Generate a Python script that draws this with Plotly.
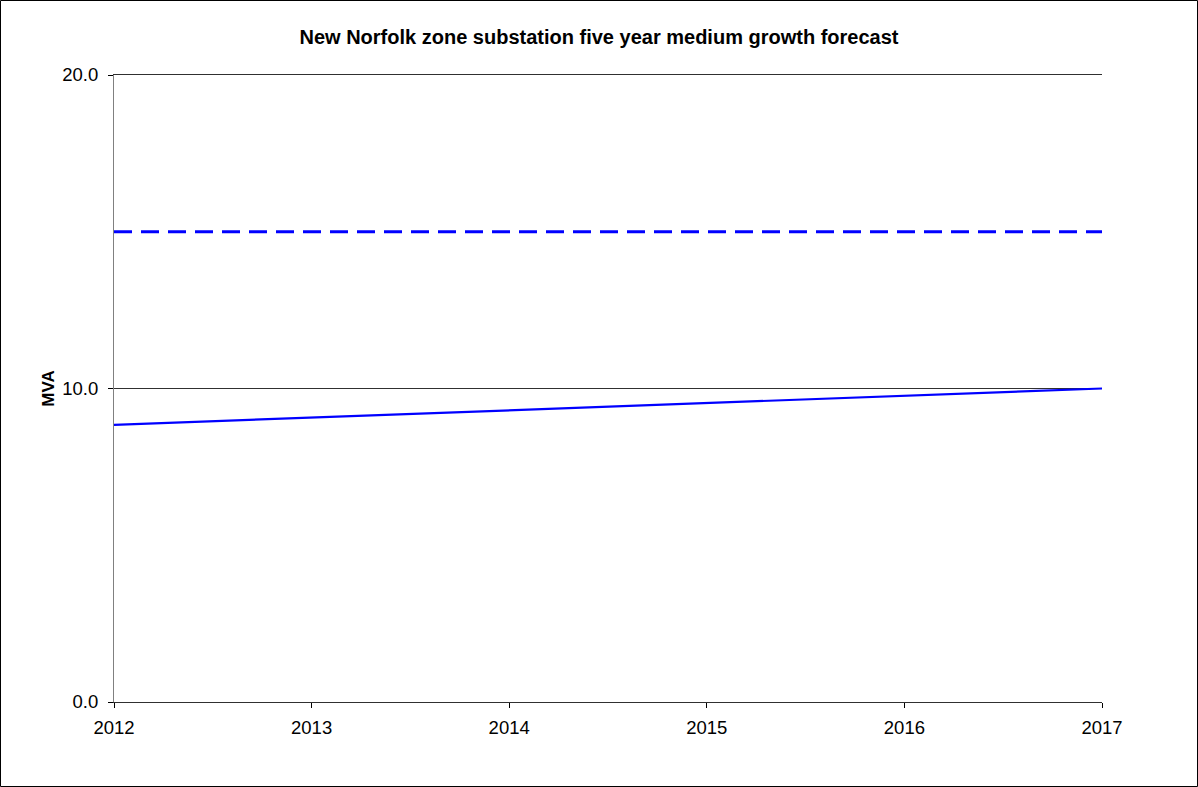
import plotly.graph_objects as go

# Forecast years and loads (MVA)
years = [2012, 2013, 2014, 2015, 2016, 2017]
forecast_mva = [8.84, 9.07, 9.30, 9.52, 9.77, 10.0]
firm_capacity_mva = [15.0, 15.0, 15.0, 15.0, 15.0, 15.0]

W, H = 1198, 787
L, R, T, B = 114, 96, 75, 85
pw, ph = W - L - R, H - T - B

fig = go.Figure()
fig.add_trace(go.Scatter(
    x=years, y=firm_capacity_mva, mode="lines",
    line=dict(color="#0000FF", width=3, dash="18px,9px"),
    showlegend=False, hoverinfo="skip"))
fig.add_trace(go.Scatter(
    x=years, y=forecast_mva, mode="lines",
    line=dict(color="#0000FF", width=2.2),
    showlegend=False))

# Outer frame around the whole chart
fig.add_shape(type="rect", xref="paper", yref="paper",
              x0=(0.5 - L) / pw, x1=(W - 0.5 - L) / pw,
              y0=-(B - 0.5) / ph, y1=(ph + T - 0.5) / ph,
              line=dict(color="#000000", width=1), layer="below")

fig.update_layout(
    width=W, height=H,
    margin=dict(l=L, r=R, t=T, b=B, pad=0),
    paper_bgcolor="white", plot_bgcolor="white",
    font=dict(family="Liberation Sans, Arial, sans-serif", size=18, color="#000000"),
    title=dict(text="<b>New Norfolk zone substation five year medium growth forecast</b>",
               x=0.5, xanchor="center", y=1 - 37 / H, yanchor="middle",
               font=dict(size=20)),
    xaxis=dict(range=[2012, 2017], tickvals=years, ticktext=[str(y) for y in years],
               showgrid=False, zeroline=False, showline=True, linecolor="#303030",
               linewidth=1, mirror=True, ticks="outside", ticklen=5, tickcolor="#000000",
               tickfont=dict(size=18.5), ticklabelstandoff=4),
    yaxis=dict(range=[0, 20], tickvals=[0, 10, 20], tickformat=".1f",
               showgrid=True, gridcolor="#303030", gridwidth=1,
               zeroline=False, showline=True, linecolor="#808080", linewidth=1,
               ticks="outside", ticklen=5, tickcolor="#000000",
               tickfont=dict(size=18.5), ticklabelstandoff=6,
               title=dict(text="<b>MVA</b>", standoff=3, font=dict(size=17))),
)

fig.write_html("out.html")
